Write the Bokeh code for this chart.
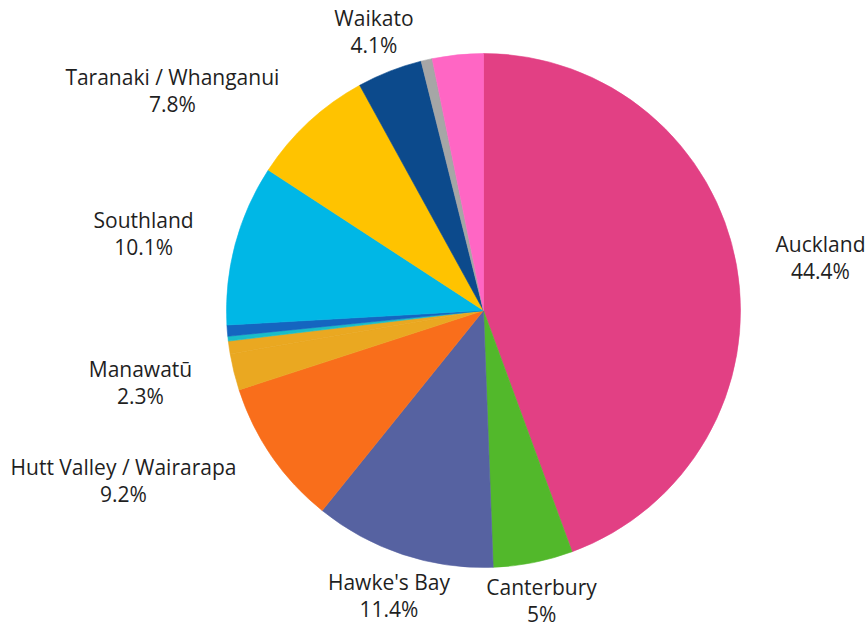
import math
from bokeh.plotting import figure
from bokeh.models import Range1d, ColumnDataSource
from bokeh.core.properties import value
from bokeh.embed import file_html
from bokeh.resources import INLINE

# ---- data (clockwise from 12 o'clock) ----
regions = ["Auckland", "Canterbury", "Hawke's Bay", "Hutt Valley / Wairarapa",
           "Manawatū", "", "", "", "Southland", "Taranaki / Whanganui",
           "Waikato", "", ""]
shares = [44.4, 5.0, 11.4, 9.2, 2.3, 0.8, 0.3, 0.7, 10.1, 7.8, 4.1, 0.7, 3.2]
colors = ["#E24084", "#52B82B", "#5662A1", "#F96E1B", "#EAA821", "#EAA821",
          "#19BDC9", "#1565C0", "#00B7E6", "#FFC300", "#0C4A8C", "#A6A6A6",
          "#FF66C4"]

# ---- layout (page pixels, origin top-left of the canvas) ----
W, H = 867, 628
CX, CY = 483, 310          # pie centre
R = 257
R_LAB = 300
FS = 21
LINE = 27
TXT = "#1f1f1f"

def dy(y):                  # page y -> data y (data y grows upward)
    return H - y

# approximate Open Sans advance widths (em)
CW = {'A': .633, 'C': .631, 'H': .739, 'M': .903, 'S': .546, 'T': .553, 'V': .593,
      'W': .923, 'a': .556, 'b': .613, 'c': .476, 'd': .613, 'e': .561, 'g': .548,
      'h': .614, 'i': .253, 'k': .525, 'l': .253, 'n': .614, 'o': .604, 'p': .613,
      'r': .408, 's': .477, 't': .353, 'u': .614, 'ū': .614, 'w': .778, 'y': .501,
      ' ': .26, '/': .373, "'": .197, '.': .266, '%': .828}

def text_w(s):
    return sum(CW.get(ch, .572) for ch in s) * FS

total = sum(shares)
starts, ends = [], []
lab_x, lab_y, lab_t = [], [], []
cum = 0.0
for name, v in zip(regions, shares):
    f0 = cum / total
    f1 = (cum + v) / total
    cum += v
    starts.append(math.pi / 2 - 2 * math.pi * f0)
    ends.append(math.pi / 2 - 2 * math.pi * f1)
    if not name:
        continue
    phi = 2 * math.pi * (f0 + f1) / 2
    ax = CX + R_LAB * math.sin(phi)
    ay = CY - R_LAB * math.cos(phi)
    pct = f"{v:g}%"
    bw = max(text_w(name), text_w(pct))
    s = math.sin(phi)
    if s > 0.5:
        mid = ax + bw / 2
    elif s < -0.5:
        mid = ax - bw / 2
    else:
        mid = ax
    # keep the block inside the canvas
    mid = min(mid, W - 2 - bw / 2)
    mid = max(mid, 2 + bw / 2)
    ay = min(ay, H - 15 - LINE / 2)
    ay = max(ay, 10 + LINE / 2)
    lab_x += [mid, mid]
    lab_y += [dy(ay - LINE / 2), dy(ay + LINE / 2)]
    lab_t += [name, pct]

src = ColumnDataSource(dict(start=starts, end=ends, color=colors))

p = figure(width=W, height=H, output_backend="svg", toolbar_location=None,
           x_range=Range1d(0, W), y_range=Range1d(0, H),
           min_border=0, outline_line_color=None)
p.axis.visible = False
p.grid.visible = False
p.background_fill_color = "white"
p.border_fill_color = "white"

p.wedge(x=CX, y=dy(CY), radius=R, start_angle="start", end_angle="end",
        direction="clock", fill_color="color", line_color="color",
        line_width=0.6, source=src)

p.text(x=lab_x, y=lab_y, text=lab_t, text_align="center",
       text_baseline="middle", text_font=value("Open Sans"),
       text_font_size=f"{FS}px", text_color=TXT)

open("out.html", "w").write(file_html(p, INLINE))
